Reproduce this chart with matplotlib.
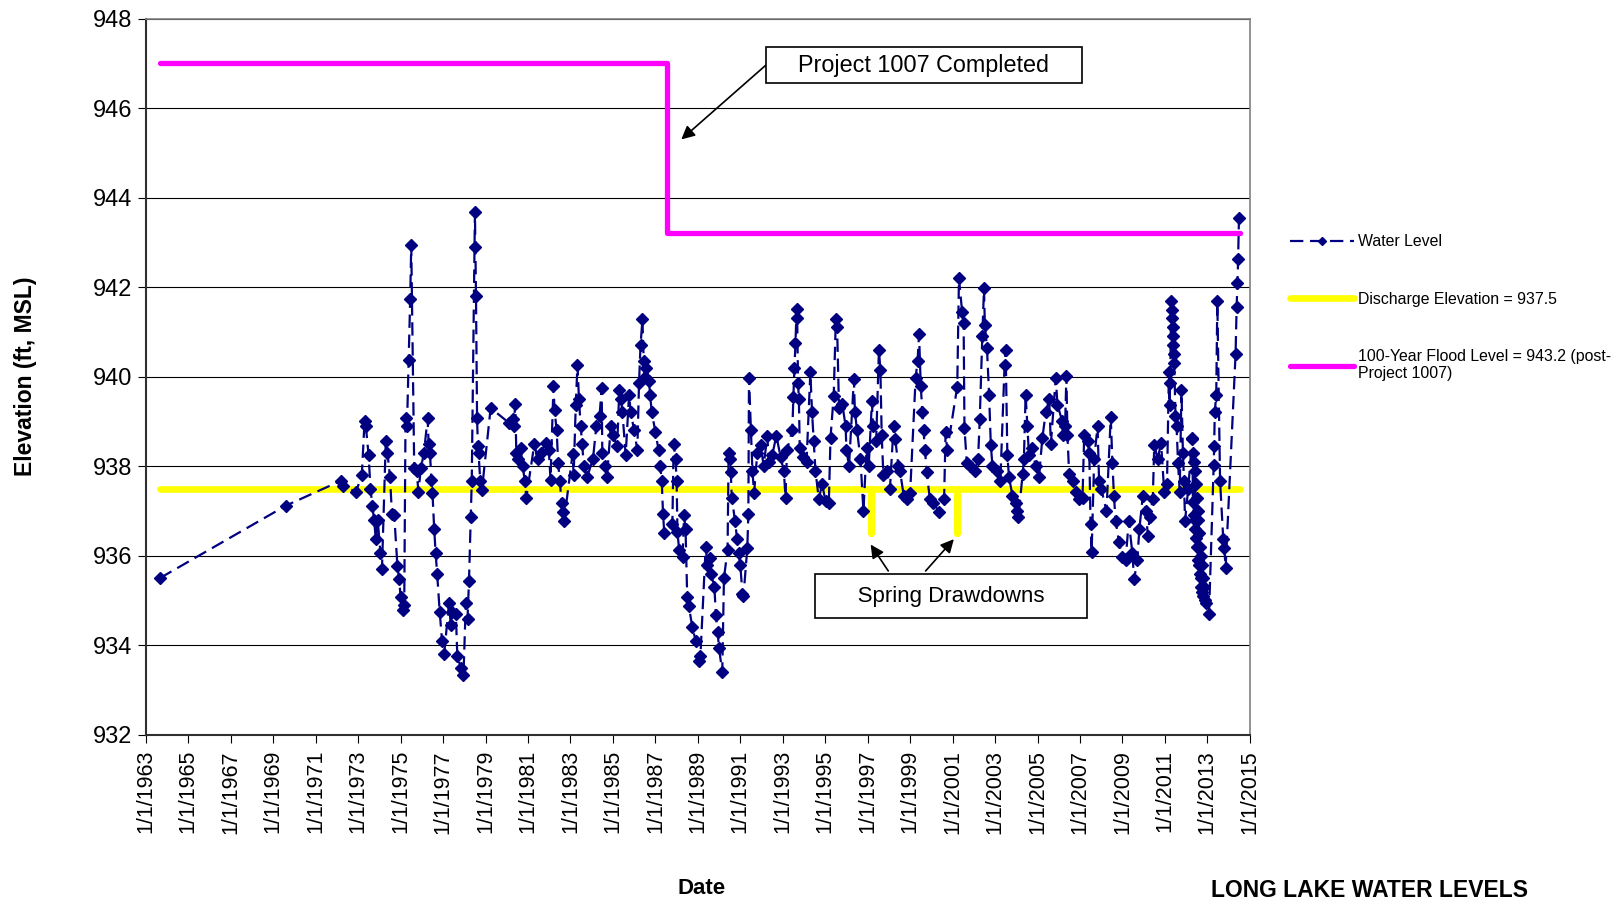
import matplotlib
matplotlib.use("Agg")
import matplotlib.pyplot as plt

plt.rcParams['font.family'] = ['Liberation Sans', 'DejaVu Sans']

# water level readings (decimal year, elevation ft MSL)
years = [
    1963.66, 1969.60, 1972.17, 1972.30, 1972.90, 1973.17, 1973.30, 1973.36, 1973.49, 1973.58,
    1973.67, 1973.75, 1973.83, 1973.92, 1974.05, 1974.12, 1974.30, 1974.38, 1974.50, 1974.59,
    1974.70, 1974.85, 1974.93, 1975.00, 1975.10, 1975.17, 1975.23, 1975.30, 1975.38, 1975.45,
    1975.50, 1975.64, 1975.75, 1975.84, 1975.95, 1976.10, 1976.27, 1976.32, 1976.38, 1976.45,
    1976.50, 1976.58, 1976.65, 1976.72, 1976.84, 1976.95, 1977.05, 1977.28, 1977.36, 1977.44,
    1977.60, 1977.67, 1977.83, 1977.96, 1978.07, 1978.15, 1978.22, 1978.30, 1978.35, 1978.50,
    1978.52, 1978.55, 1978.60, 1978.64, 1978.67, 1978.75, 1978.83, 1979.24, 1980.10, 1980.27,
    1980.33, 1980.40, 1980.45, 1980.55, 1980.65, 1980.75, 1980.85, 1980.92, 1981.30, 1981.45,
    1981.60, 1981.83, 1981.98, 1982.06, 1982.20, 1982.25, 1982.35, 1982.42, 1982.50, 1982.58,
    1982.66, 1982.70, 1983.10, 1983.15, 1983.25, 1983.33, 1983.40, 1983.48, 1983.55, 1983.63,
    1983.78, 1984.06, 1984.22, 1984.37, 1984.47, 1984.50, 1984.65, 1984.72, 1984.90, 1985.00,
    1985.20, 1985.30, 1985.38, 1985.45, 1985.60, 1985.76, 1985.84, 1986.00, 1986.15, 1986.23,
    1986.30, 1986.39, 1986.45, 1986.50, 1986.58, 1986.70, 1986.75, 1986.83, 1987.00, 1987.15,
    1987.23, 1987.30, 1987.36, 1987.42, 1987.80, 1987.86, 1987.95, 1988.00, 1988.04, 1988.12,
    1988.28, 1988.35, 1988.42, 1988.50, 1988.58, 1988.74, 1988.90, 1989.05, 1989.12, 1989.37,
    1989.45, 1989.55, 1989.62, 1989.78, 1989.85, 1989.93, 1990.00, 1990.15, 1990.23, 1990.40,
    1990.45, 1990.50, 1990.55, 1990.60, 1990.75, 1990.85, 1990.92, 1991.00, 1991.10, 1991.15,
    1991.33, 1991.38, 1991.41, 1991.50, 1991.57, 1991.65, 1991.80, 1991.96, 1992.10, 1992.27,
    1992.35, 1992.50, 1992.70, 1992.90, 1993.05, 1993.13, 1993.20, 1993.45, 1993.50, 1993.55,
    1993.60, 1993.65, 1993.68, 1993.72, 1993.76, 1993.80, 1993.96, 1994.12, 1994.30, 1994.38,
    1994.46, 1994.54, 1994.70, 1994.85, 1995.02, 1995.17, 1995.25, 1995.40, 1995.50, 1995.56,
    1995.65, 1995.80, 1995.96, 1996.00, 1996.12, 1996.35, 1996.40, 1996.50, 1996.66, 1996.80,
    1996.95, 1997.05, 1997.20, 1997.25, 1997.40, 1997.53, 1997.60, 1997.66, 1997.74, 1997.90,
    1998.05, 1998.22, 1998.30, 1998.45, 1998.52, 1998.70, 1998.85, 1999.00, 1999.26, 1999.35,
    1999.42, 1999.50, 1999.58, 1999.63, 1999.70, 1999.78, 1999.93, 2000.10, 2000.36, 2000.60,
    2000.67, 2000.75, 2001.22, 2001.30, 2001.45, 2001.52, 2001.56, 2001.67, 2001.83, 2002.05,
    2002.20, 2002.28, 2002.40, 2002.48, 2002.52, 2002.62, 2002.72, 2002.80, 2002.88, 2003.10,
    2003.25, 2003.45, 2003.50, 2003.58, 2003.66, 2003.82, 2003.97, 2004.05, 2004.10, 2004.30,
    2004.36, 2004.44, 2004.52, 2004.60, 2004.75, 2004.91, 2005.07, 2005.23, 2005.39, 2005.55,
    2005.63, 2005.86, 2005.94, 2006.17, 2006.20, 2006.30, 2006.36, 2006.41, 2006.49, 2006.65,
    2006.80, 2006.96, 2007.12, 2007.20, 2007.36, 2007.44, 2007.50, 2007.55, 2007.67, 2007.83,
    2007.90, 2008.00, 2008.25, 2008.45, 2008.53, 2008.60, 2008.68, 2008.84, 2009.00, 2009.15,
    2009.30, 2009.47, 2009.55, 2009.70, 2009.80, 2009.96, 2010.10, 2010.20, 2010.28, 2010.43,
    2010.50, 2010.66, 2010.82, 2010.97, 2011.10, 2011.19, 2011.22, 2011.25, 2011.30, 2011.32,
    2011.34, 2011.36, 2011.38, 2011.40, 2011.42, 2011.44, 2011.50, 2011.55, 2011.62, 2011.70,
    2011.78, 2011.85, 2011.90, 2011.95, 2012.10, 2012.29, 2012.30, 2012.32, 2012.34, 2012.36,
    2012.38, 2012.40, 2012.42, 2012.44, 2012.46, 2012.48, 2012.50, 2012.52, 2012.54, 2012.56,
    2012.58, 2012.60, 2012.62, 2012.64, 2012.66, 2012.68, 2012.70, 2012.72, 2012.74, 2012.76,
    2012.78, 2012.80, 2012.84, 2012.88, 2012.92, 2013.08, 2013.30, 2013.32, 2013.35, 2013.42,
    2013.47, 2013.60, 2013.75, 2013.80, 2013.86, 2014.33, 2014.38, 2014.42, 2014.45, 2014.49,
]
levels = [
    935.50, 937.12, 937.67, 937.55, 937.43, 937.80, 939.00, 938.90, 938.25, 937.50,
    937.10, 936.80, 936.37, 936.80, 936.05, 935.70, 938.56, 938.30, 937.75, 936.94,
    936.90, 935.76, 935.48, 935.07, 934.79, 934.90, 939.07, 938.90, 940.37, 941.74,
    942.94, 937.95, 937.90, 937.43, 937.95, 938.30, 939.07, 938.50, 938.30, 937.70,
    937.40, 936.60, 936.05, 935.60, 934.75, 934.10, 933.80, 934.95, 934.46, 934.75,
    934.70, 933.77, 933.50, 933.33, 934.95, 934.58, 935.44, 936.86, 937.67, 943.68,
    942.90, 941.80, 939.07, 938.44, 938.30, 937.67, 937.47, 939.30, 938.97, 939.05,
    938.90, 939.40, 938.30, 938.15, 938.40, 938.00, 937.67, 937.30, 938.50, 938.15,
    938.30, 938.52, 938.36, 937.70, 939.80, 939.25, 938.80, 938.07, 937.67, 937.18,
    936.98, 936.78, 938.28, 937.80, 939.37, 940.27, 939.50, 938.90, 938.50, 938.00,
    937.75, 938.16, 938.90, 939.13, 939.74, 938.30, 938.00, 937.75, 938.90, 938.70,
    938.44, 939.70, 939.50, 939.20, 938.24, 939.60, 939.20, 938.80, 938.36, 939.86,
    940.70, 941.28, 940.35, 940.00, 940.20, 939.90, 939.60, 939.20, 938.77, 938.36,
    938.00, 937.67, 936.94, 936.50, 936.70, 938.50, 938.15, 937.67, 936.53, 936.13,
    935.97, 936.90, 936.60, 935.07, 934.87, 934.40, 934.10, 933.65, 933.75, 936.20,
    935.80, 935.96, 935.60, 935.30, 934.67, 934.30, 933.93, 933.40, 935.50, 936.13,
    938.30, 938.15, 937.87, 937.30, 936.78, 936.37, 936.05, 935.80, 935.15, 935.10,
    936.17, 936.94, 939.98, 938.80, 937.90, 937.40, 938.30, 938.48, 938.00, 938.68,
    938.10, 938.24, 938.68, 938.20, 937.90, 937.30, 938.36, 938.80, 939.54, 940.20,
    940.75, 941.52, 941.30, 939.86, 939.50, 938.40, 938.20, 938.10, 940.10, 939.20,
    938.56, 937.90, 937.26, 937.60, 937.22, 937.18, 938.64, 939.57, 941.28, 941.10,
    939.30, 939.40, 938.90, 938.36, 938.00, 939.94, 939.20, 938.80, 938.16, 937.00,
    938.40, 938.00, 939.45, 938.90, 938.56, 940.60, 940.14, 938.70, 937.80, 937.90,
    937.50, 938.90, 938.60, 938.00, 937.90, 937.34, 937.26, 937.40, 939.98, 940.35,
    940.95, 939.80, 939.20, 938.80, 938.36, 937.87, 937.26, 937.18, 936.98, 937.26,
    938.76, 938.36, 939.78, 942.21, 941.44, 941.20, 938.85, 938.07, 938.00, 937.90,
    938.16, 939.05, 940.90, 941.97, 941.16, 940.63, 939.60, 938.48, 938.00, 937.90,
    937.67, 940.27, 940.60, 938.24, 937.75, 937.34, 937.18, 937.00, 936.86, 937.83,
    938.16, 939.60, 938.90, 938.24, 938.40, 938.00, 937.75, 938.64, 939.20, 939.50,
    938.50, 939.98, 939.37, 939.00, 938.70, 938.90, 940.02, 938.70, 937.83, 937.67,
    937.42, 937.26, 937.30, 938.70, 938.56, 938.30, 936.70, 936.09, 938.16, 938.90,
    937.67, 937.50, 937.00, 939.10, 938.07, 937.34, 936.78, 936.30, 935.97, 935.90,
    936.78, 936.05, 935.47, 935.90, 936.60, 937.34, 937.00, 936.45, 936.86, 937.26,
    938.48, 938.16, 938.52, 937.42, 937.60, 940.10, 939.37, 939.86, 941.70, 941.50,
    941.30, 941.10, 940.90, 940.70, 940.50, 940.30, 939.13, 938.90, 938.07, 937.42,
    939.70, 938.30, 937.67, 936.78, 937.50, 938.64, 938.60, 937.20, 938.30, 936.90,
    938.10, 936.80, 937.90, 936.60, 937.60, 936.40, 937.30, 936.20, 937.00, 935.90,
    936.80, 935.80, 936.50, 935.60, 936.20, 935.50, 936.00, 935.30, 935.80, 935.20,
    935.50, 935.10, 935.30, 935.00, 934.95, 934.70, 938.03, 938.44, 939.20, 939.60,
    941.68, 937.67, 936.37, 936.17, 935.72, 940.50, 941.56, 942.10, 942.62, 943.55,
]

# reference lines
flood_x = [1963.65, 1987.55, 1987.55, 2014.55]
flood_y = [947.0, 947.0, 943.2, 943.2]
disch_x = [1963.65, 1997.15, 1997.15, 1997.15, 2001.22, 2001.22, 2001.22, 2014.55]
disch_y = [937.5, 937.5, 936.5, 937.5, 937.5, 936.5, 937.5, 937.5]

tick_years = list(range(1963, 2016, 2))
tick_labels = ['1/1/%d' % y for y in tick_years]

fig = plt.figure(figsize=(16.21, 9.06), dpi=100)
ax = fig.add_axes([0.090, 0.189, 0.681, 0.7905])

ax.plot(disch_x, disch_y, color='#FFFF00', lw=4.8, solid_capstyle='round',
        solid_joinstyle='round', label='Discharge Elevation = 937.5', zorder=3)
ax.plot(flood_x, flood_y, color='#FF00FF', lw=3.8, solid_capstyle='round',
        label='100-Year Flood Level = 943.2 (post-\nProject 1007)', zorder=3)
ax.plot(years, levels, color='#000080', lw=1.6, ls=(0, (6, 3)), marker='D',
        ms=6.5, mec='#000080', mfc='#000080', label='Water Level', zorder=4)

ax.set_xlim(1963, 2015)
ax.set_ylim(932, 948)
ax.set_xticks(tick_years)
ax.set_xticklabels(tick_labels, rotation=90, fontsize=15.5)
ax.set_yticks(range(932, 949, 2))
ax.tick_params(axis='y', labelsize=17, direction='out', length=6, pad=4)
ax.tick_params(axis='x', direction='out', length=6, pad=5)
ax.yaxis.grid(True, color='black', lw=0.8)
ax.set_axisbelow(True)
for s in ['top', 'right']:
    ax.spines[s].set_color('#808080')
    ax.spines[s].set_linewidth(1.2)
for s in ['left', 'bottom']:
    ax.spines[s].set_color('#303030')
    ax.spines[s].set_linewidth(1.5)

ax.set_ylabel('Elevation (ft, MSL)', fontsize=16.5, fontweight='bold', labelpad=40)
fig.text(0.4325, 0.0195, 'Date', fontsize=16, fontweight='bold', ha='center', va='center')
fig.text(0.845, 0.0175, 'LONG LAKE WATER LEVELS', fontsize=16.5, fontweight='bold',
         ha='center', va='center')

ax.annotate('    Project 1007 Completed    ', xy=(1988.22, 945.3), xytext=(1999.65, 946.96),
            fontsize=16.8, ha='center', va='center',
            bbox=dict(boxstyle='square,pad=0.27', fc='white', ec='black', lw=1.2),
            arrowprops=dict(arrowstyle='-|>', color='black', lw=1.2,
                            mutation_scale=20, shrinkA=0, shrinkB=0,
                            relpos=(0.0, 0.75)))
ax.text(2000.93, 935.1, '     Spring Drawdowns     ', fontsize=16, ha='center', va='center',
        bbox=dict(boxstyle='square,pad=0.52', fc='white', ec='black', lw=1.2), zorder=5)
ax.annotate('', xy=(1997.14, 936.25), xytext=(1997.97, 935.66),
            arrowprops=dict(arrowstyle='-|>', color='black', lw=1.2, mutation_scale=20,
                            shrinkA=0, shrinkB=0))
ax.annotate('', xy=(2001.06, 936.37), xytext=(1999.73, 935.66),
            arrowprops=dict(arrowstyle='-|>', color='black', lw=1.2, mutation_scale=20,
                            shrinkA=0, shrinkB=0))

h, l = ax.get_legend_handles_labels()
order = [2, 0, 1]
fig.legend([h[i] for i in order], [l[i] for i in order], loc='upper left',
           bbox_to_anchor=(0.796, 0.7415), frameon=False, fontsize=11.4,
           handlelength=4.0, handletextpad=0.3, labelspacing=2.68,
           borderpad=0, borderaxespad=0, markerscale=0.6)

fig.savefig('out.png', dpi=100)
